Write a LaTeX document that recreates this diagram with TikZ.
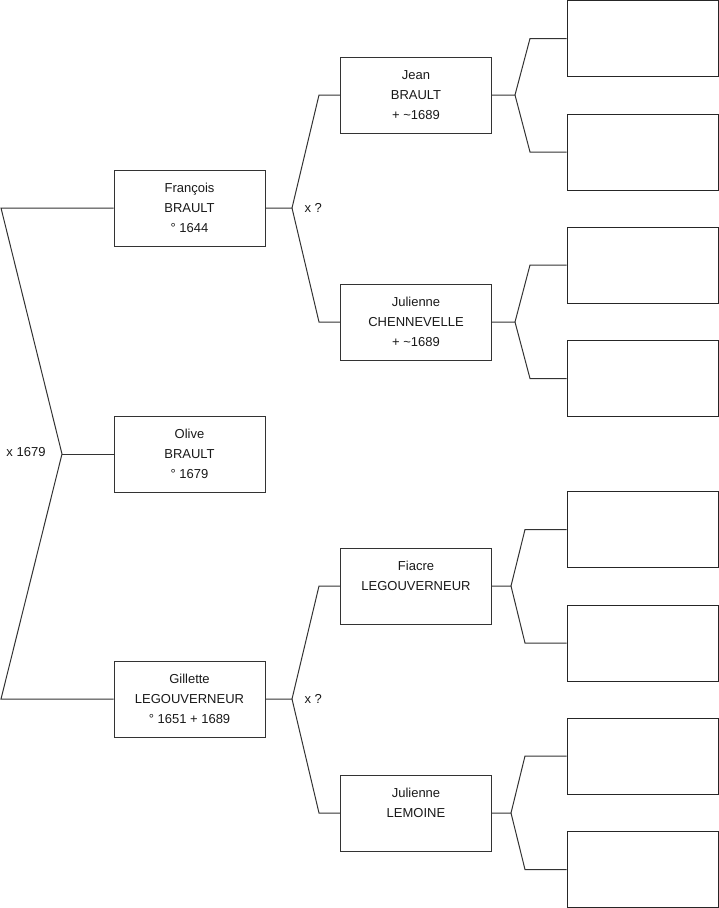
\documentclass[tikz,border=0pt]{standalone}
\usepackage{fontspec}
\setmainfont{Liberation Sans}
\begin{document}
\begin{tikzpicture}[x=1pt,y=-1pt,
  line width=1pt,
  personbox/.style={draw=black!80, minimum width=151pt, minimum height=76pt, inner sep=0pt,
    align=center, font=\fontsize{13}{20}\selectfont, text=black!90},
  emptybox/.style={draw=black!85, minimum width=151pt, minimum height=76pt, inner sep=0pt},
  link/.style={draw=black!80, line width=1pt},
  lbl/.style={font=\fontsize{13}{16}\selectfont, inner sep=0pt, text=black!90}]
\useasboundingbox (0,0) rectangle (719,908);
% generation 1
\node[personbox] (F) at (189.5,208) {François\\BRAULT\\° 1644};
\node[personbox] (O) at (189.5,454) {Olive\\BRAULT\\° 1679};
\node[personbox] (G) at (189.5,699) {Gillette\\LEGOUVERNEUR\\° 1651 + 1689};
% generation 2
\node[personbox] (J) at (416,95) {Jean\\BRAULT\\+ \textasciitilde1689};
\node[personbox] (JC) at (416,322) {Julienne\\CHENNEVELLE\\+ \textasciitilde1689};
\node[personbox] (FL) at (416,586) {Fiacre\\LEGOUVERNEUR\\\phantom{1}};
\node[personbox] (JL) at (416,813) {Julienne\\LEMOINE\\\phantom{1}};
% generation 3 (empty)
\node[emptybox] (R1) at (642.5,38.5) {};
\node[emptybox] (R2) at (642.5,152) {};
\node[emptybox] (R3) at (642.5,265) {};
\node[emptybox] (R4) at (642.5,378.5) {};
\node[emptybox] (R5) at (642.5,529.5) {};
\node[emptybox] (R6) at (642.5,643) {};
\node[emptybox] (R7) at (642.5,756) {};
\node[emptybox] (R8) at (642.5,869.5) {};
% fork points
\coordinate (a1) at (1,208);
\coordinate (a0) at (62,454);
\coordinate (a2) at (1,699);
\coordinate (b1) at (292,208);
\coordinate (b2) at (292,699);
\coordinate (c1) at (515,95);
\coordinate (c2) at (515,322);
\coordinate (c3) at (511,586);
\coordinate (c4) at (511,813);
% left fork
\draw[link] (F.west) -- (a1) -- (a0) -- (a2) -- (G.west);
\draw[link] (a0) -- (O.west);
\node[lbl] (m0) at (26,452) {x 1679};
% generation 1 to 2
\draw[link] (F.east) -- (b1) -- (319,95) -- (J.west);
\draw[link] (b1) -- (319,322) -- (JC.west);
\node[lbl, anchor=west] (m1) at (304,208) {x ?};
\draw[link] (G.east) -- (b2) -- (319,586) -- (FL.west);
\draw[link] (b2) -- (319,813) -- (JL.west);
\node[lbl, anchor=west] (m2) at (304,699) {x ?};
% generation 2 to 3
\draw[link] (J.east) -- (c1) -- (530,38.5) -- (R1.west);
\draw[link] (c1) -- (530,152) -- (R2.west);
\draw[link] (JC.east) -- (c2) -- (530,265) -- (R3.west);
\draw[link] (c2) -- (530,378.5) -- (R4.west);
\draw[link] (FL.east) -- (c3) -- (525,529.5) -- (R5.west);
\draw[link] (c3) -- (525,643) -- (R6.west);
\draw[link] (JL.east) -- (c4) -- (525,756) -- (R7.west);
\draw[link] (c4) -- (525,869.5) -- (R8.west);
\end{tikzpicture}
\end{document}
